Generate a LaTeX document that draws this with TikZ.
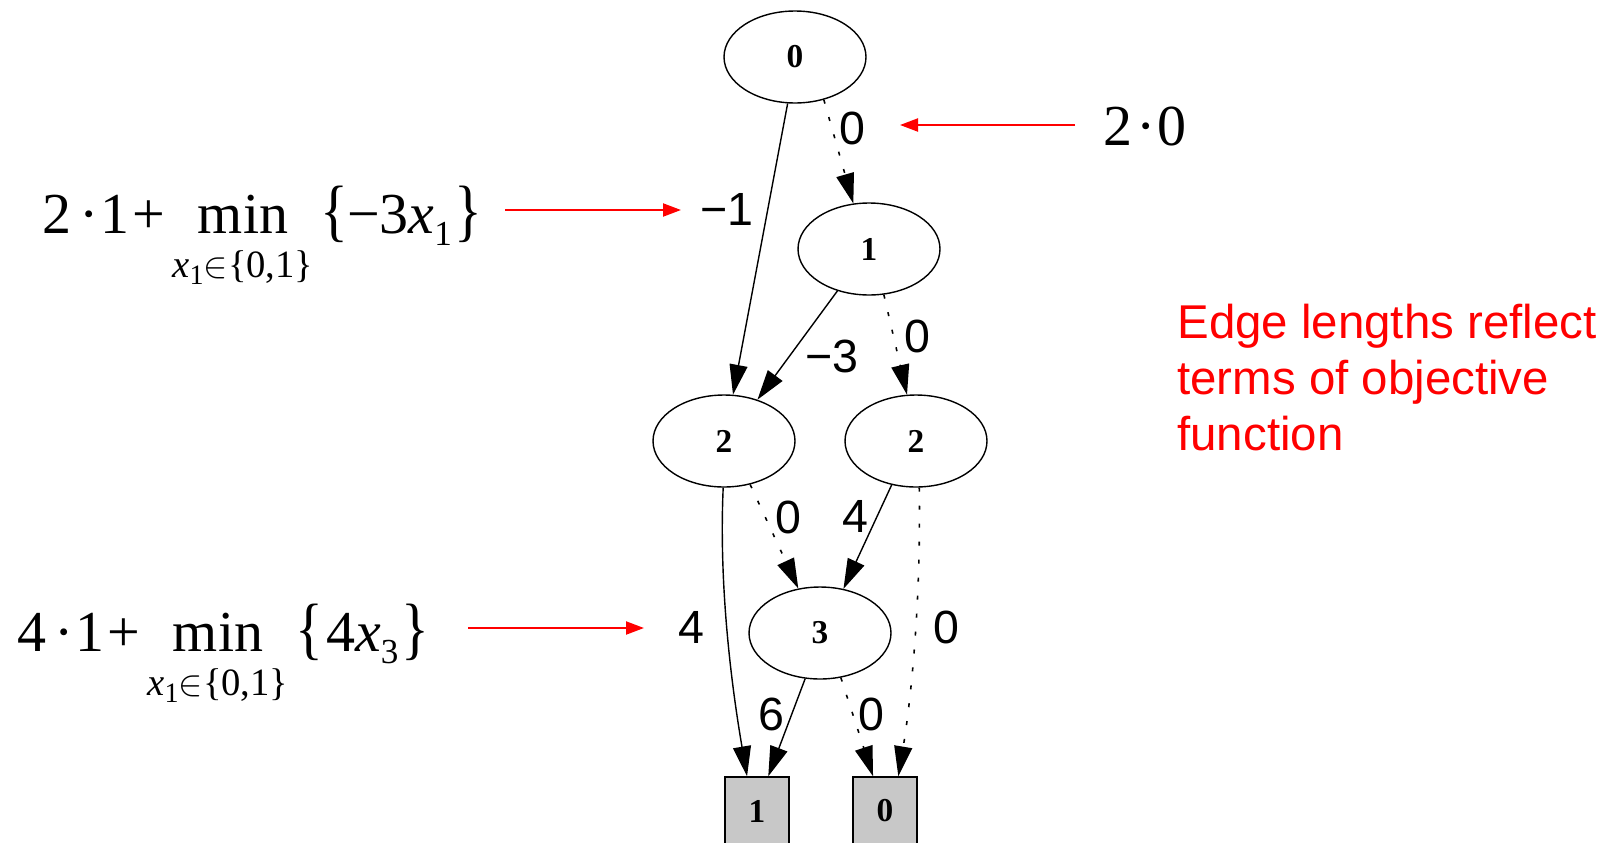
\documentclass[tikz,border=0pt]{standalone}
\usepackage{amsmath}
\usepackage{fontspec}
\setmainfont{Liberation Serif}
\newfontfamily\arial{Liberation Sans}
\usetikzlibrary{shapes.geometric,arrows.meta}
\definecolor{boxgray}{RGB}{200,200,200}
\definecolor{pptred}{RGB}{255,0,0}
\newcommand{\bigfs}{\fontsize{33}{40}\selectfont}
\newcommand{\subfs}{\fontsize{22}{26}\selectfont}
\newcommand{\lowone}[1]{\raisebox{-0.22em}{\fontsize{20}{20}\selectfont #1}}
\newcommand{\subone}[1]{\raisebox{-0.2em}{\fontsize{16}{16}\selectfont #1}}
\newcommand{\tallbrace}[1]{\scalebox{1}[1.18]{#1}}
\begin{document}
\begin{tikzpicture}[x=0.02cm,y=-0.02cm,
  bdd/.style={ellipse, draw, line width=0.8pt, minimum width=2.84cm, minimum height=1.84cm, inner sep=0pt, font=\fontsize{19}{19}\selectfont\bfseries},
  term/.style={rectangle, draw, fill=boxgray, line width=0.8pt, minimum width=1.28cm, minimum height=1.36cm, inner sep=0pt, font=\fontsize{19}{19}\selectfont\bfseries},
  hi/.style={draw, line width=0.8pt, -{Triangle[length=0.6cm,width=0.36cm]}},
  lo/.style={hi, line width=0.9pt, dash pattern=on 0.08cm off 0.28cm},
  elab/.style={font=\arial\fontsize{26.5}{26.5}\selectfont, inner sep=0pt},
  fml/.style={font=\bigfs, inner sep=0pt},
  fsub/.style={font=\subfs, inner sep=0pt},
  redarrow/.style={pptred, line width=1.2pt, -{Triangle[length=0.36cm,width=0.26cm]}}
]
\useasboundingbox[fill=white] (0,0) rectangle (1612,842);

% BDD nodes
\node[bdd] (n0) at (795,57) {0};
\node[bdd] (n1) at (869,249) {1};
\node[bdd] (n2L) at (724,441) {2};
\node[bdd] (n2R) at (916,441) {2};
\node[bdd] (n3) at (820,633) {3};
\node[term] (b1) at (757,811) {1};
\node[term] (b0) at (885,811) {0};

% edges
\draw[hi] (n0.-99) -- (n2L.79);
\draw[lo] (n0.-56.5) -- (n1.109.7);
\draw[hi] (n1.-127.9) -- (n2L.51);
\draw[lo] (n1.-72.8) -- (n2R.101);
\draw[hi] (n2L.-91) .. controls +(-5,110) and +(-12,-70) .. (b1.106.4);
\draw[lo] (n2L.-59.8) -- (n3.116.7);
\draw[hi] (n2R.-119) -- (n3.62.1);
\draw[lo] (n2R.-86) .. controls +(2,130) and +(10,-60) .. (b0.69);
\draw[hi] (n3.-108.4) -- (b1.72);
\draw[lo] (n3.-65.6) -- (b0.109.4);

% edge labels
\node[elab] (e1) at (727,209) {−1};
\node[elab] (e2) at (852,128) {0};
\node[elab] (e3) at (832,356) {−3};
\node[elab] (e4) at (917,336) {0};
\node[elab] (e5) at (788,517) {0};
\node[elab] (e6) at (855,516) {4};
\node[elab] (e7) at (691,627) {4};
\node[elab] (e8) at (946,627) {0};
\node[elab] (e9) at (771,714) {6};
\node[elab] (e10) at (871,714) {0};

% formula 1
\node[fml, anchor=base west] (f1a) at (42,233) {2\kern0.15em·\kern0.02em1\kern0.05em+};
\node[fml, anchor=base] (f1m) at (243,233) {min};
\node[fsub, anchor=base] (f1s) at (243,277) {{\itshape x}\subone{1}$\in$\{0,1\}};
\node[fml, anchor=base west] (f1b) at (320,233) {\tallbrace{\{}\kern-0.02em−3{\itshape x}\lowone{1}\kern0.05em\tallbrace{\}}};

% formula 2
\node[fml, anchor=base west] (f2a) at (17,651) {4\kern0.15em·\kern0.02em1\kern0.05em+};
\node[fml, anchor=base] (f2m) at (218,651) {min};
\node[fsub, anchor=base] (f2s) at (218,695) {{\itshape x}\subone{1}$\in$\{0,1\}};
\node[fml, anchor=base west] (f2b) at (295,651) {\tallbrace{\{}\kern0.05em4{\itshape x}\lowone{3}\kern0.05em\tallbrace{\}}};

% 2.0
\node[fml, anchor=base west] (f3) at (1103,145) {2\kern0.08em·\kern0.02em0};

% red arrows
\coordinate (a1s) at (505,210);
\coordinate (a1e) at (681,210);
\coordinate (a2s) at (468,628);
\coordinate (a2e) at (644,628);
\coordinate (a3s) at (1075,125);
\coordinate (a3e) at (900,125);
\draw[redarrow] (a1s) -- (a1e);
\draw[redarrow] (a2s) -- (a2e);
\draw[redarrow] (a3s) -- (a3e);

% note
\node[anchor=base west, align=left, inner sep=0pt, text=pptred,
  font=\arial\fontsize{27}{31.7}\selectfont] (note) at (1177,450)
  {Edge lengths reflect\\terms of objective\\function};
\end{tikzpicture}
\end{document}
